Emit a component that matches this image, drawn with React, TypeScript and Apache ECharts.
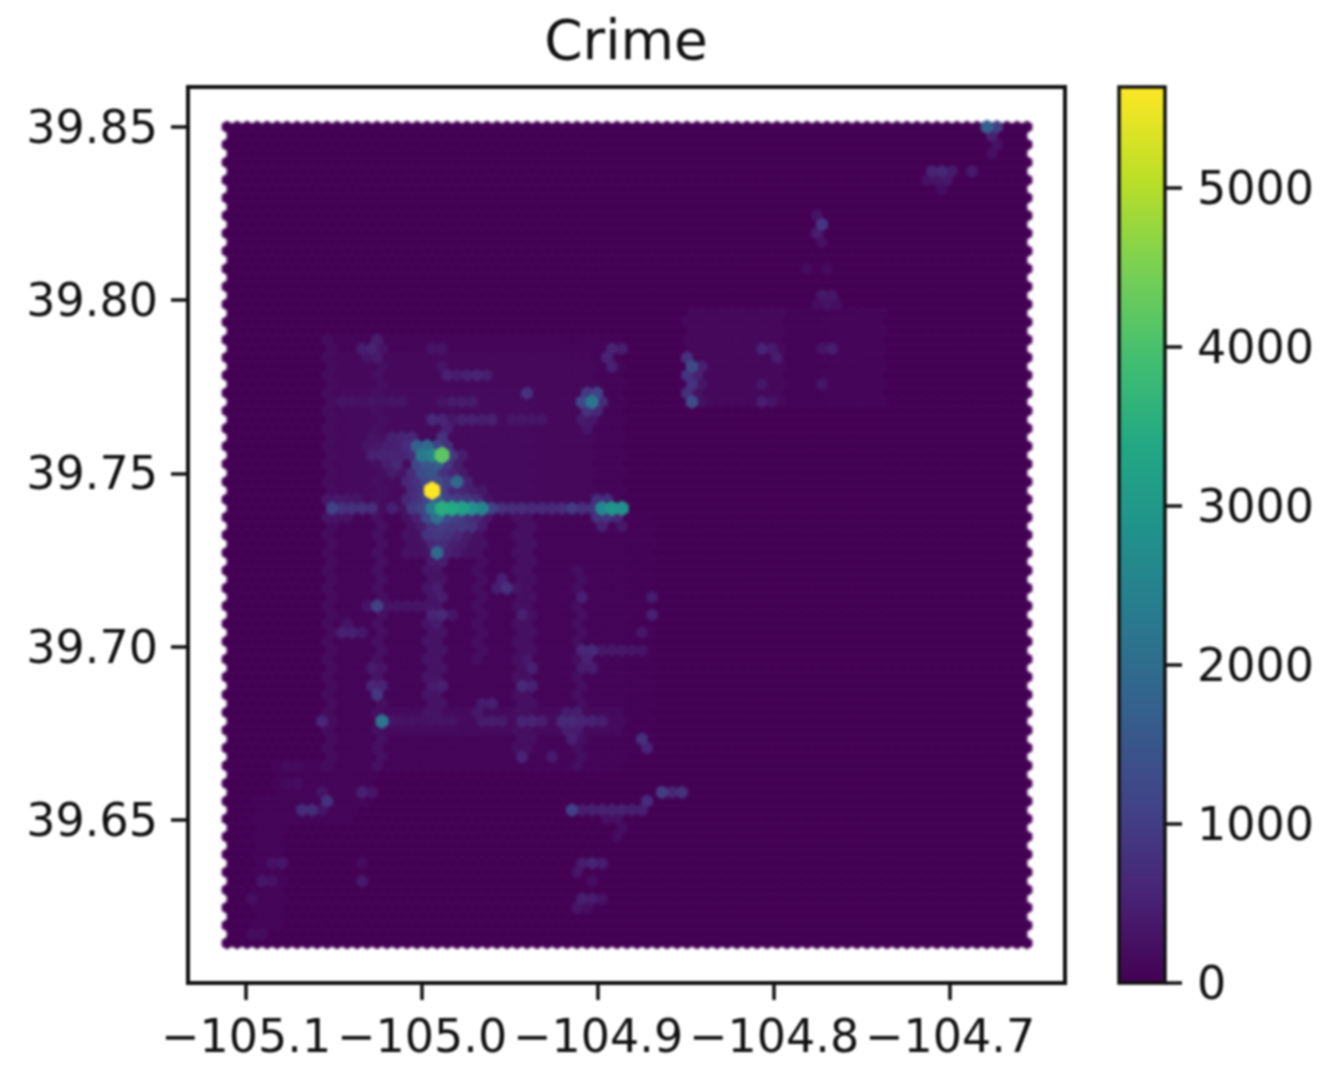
import React, { useEffect, useRef } from "react";
import * as echarts from "echarts";

const TITLE = "Crime";
const X_TICKS = [-105.1, -105.0, -104.9, -104.8, -104.7];
const Y_TICKS = [39.65, 39.7, 39.75, 39.8, 39.85];
const BAR_TICKS = [0, 1000, 2000, 3000, 4000, 5000];
const COUNT_MAX = 5635;

// Hexbin lattice (gridsize 80)
const LON_MIN = -105.1108;
const LON_MAX = -104.6563;
const LAT_MIN = 39.6145;
const LAT_MAX = 39.85;
const N_COLS = 80;
const N_ROWS = 46;

const VIRIDIS = ["#440154", "#482475", "#414487", "#355f8d", "#2a788e", "#21918c", "#22a884", "#44bf70", "#7ad151", "#bddf26", "#fde725"];

// Faint areas: [rowFrom, rowTo, colFrom, colTo, count]; rows count from the top in half steps
const REGION_COUNTS = [
  [24, 72, 10, 39, 70], [26, 42, 11, 36, 110], [30, 42, 12, 30, 150], [72, 78, 5, 12, 60], [73, 76, 9, 14, 70], [76, 90, 3, 5, 50],
  [44, 70, 40, 42, 30],
  [21, 31, 46, 55, 110], [21, 31, 60, 65, 85], [21, 31, 56, 59, 40],
  [24, 72, 10, 10, 170], [24, 72, 15, 15, 230], [44, 66, 20, 21, 290], [44, 70, 29, 30, 230], [50, 72, 35, 35, 210],
  [44, 60, 25, 25, 200], [66, 68, 16, 39, 150], [44, 48, 18, 25, 260],
];

// Individually read cells: [row, firstCol, counts]
const CELL_RUNS = [
  [0, 76, [1700, 1000]], [1, 76, [500]], [2, 77, [280]], [3, 76, [220]],
  [5, 70, [550, 600, 400, 0, 400]], [6, 70, [250, 300, 350]], [7, 71, [200]],
  [10, 59, [300]], [11, 59, [900]], [12, 59, [450]], [13, 59, [220]],
  [16, 58, [160, 0, 160]], [19, 59, [350, 320]], [20, 59, [180, 280, 180]],
  [24, 15, [450]],
  [25, 13, [450, 550, 300]], [25, 20, [300, 300]], [25, 38, [550, 450]], [25, 53, [550, 400]], [25, 59, [300, 450]],
  [26, 14, [300, 400]], [26, 38, [550]], [26, 46, [800]], [26, 55, [450]],
  [27, 21, [300]], [27, 38, [500]], [27, 46, [1250, 500]],
  [28, 22, [500, 400, 500, 550, 450]], [28, 46, [800, 500]],
  [29, 46, [800, 300]], [29, 53, [350]], [29, 59, [320]],
  [30, 30, [800]], [30, 36, [900, 1100]], [30, 46, [750, 250]],
  [31, 11, [300, 280, 260, 300, 280, 300, 300]], [31, 21, [300, 400, 420, 400]], [31, 35, [1200, 2200, 700]], [31, 46, [1300, 220]], [31, 53, [450, 300]],
  [32, 36, [800, 600]],
  [33, 20, [650, 600, 350, 500, 500, 450, 500]], [33, 28, [350, 350, 320, 320]], [33, 35, [400, 350]],
  [34, 22, [500]], [34, 36, [320]],
  [35, 14, [300, 250, 500, 550, 600]], [35, 21, [800]],
  [36, 14, [300, 350, 450, 500]], [36, 18, [700, 1700, 1900, 1100, 800]],
  [37, 14, [500, 550, 550, 550, 700]], [37, 19, [2300, 2500, 4200, 900]], [37, 23, [450]],
  [38, 16, [450, 600]], [38, 19, [1200, 1500, 1600, 900, 450]],
  [39, 16, [400, 300, 700]], [39, 19, [1300, 1400, 800, 550, 400]],
  [40, 18, [600, 800, 1200, 1300, 1000, 1900, 500]],
  [41, 18, [650]], [41, 19, [900, 5635, 1100, 600, 550, 450, 350]],
  [42, 10, [350, 400, 350, 300]], [42, 18, [600, 800, 1100, 1500, 1100, 1000, 900, 700, 300]], [42, 37, [700, 700]],
  [43, 10, [1100, 800, 800, 750, 700, 200, 500, 250, 900, 1100, 2300, 3500, 3400, 3200, 2800, 2500, 1100, 750, 700, 700, 650, 650, 650, 700, 950, 750, 800, 2600, 2900, 2800]],
  [44, 10, [300, 300, 280]], [44, 19, [500, 1200, 2100, 1200, 1000, 800, 600, 350]], [44, 37, [800, 800, 600]],
  [45, 19, [450, 900, 1000, 900, 900, 800, 400]], [45, 37, [500]], [45, 39, [350]],
  [46, 20, [800, 900, 800, 600, 400]],
  [47, 20, [600, 700, 500, 400]],
  [48, 21, [1900, 500, 400]],
  [49, 20, [400, 450]],
  [51, 27, [500]], [52, 27, [450, 800, 300]], [52, 21, [450]],
  [53, 21, [450]], [53, 35, [500]], [53, 42, [450]],
  [54, 14, [300, 1100, 300, 300, 300, 300, 300, 300]],
  [55, 20, [550, 650, 300]], [55, 29, [500]], [55, 42, [500]],
  [56, 12, [300]], [56, 21, [400]],
  [57, 11, [500, 500, 350]], [57, 41, [350]],
  [59, 35, [600, 650, 350, 350, 350, 300, 300]], [60, 30, [350]], [60, 36, [500]],
  [61, 14, [400, 300]], [61, 30, [500]], [61, 35, [400, 450]], [62, 15, [300]],
  [63, 14, [600, 550]], [63, 20, [400, 500]], [63, 29, [650, 500]],
  [64, 15, [900]],
  [65, 25, [400, 450]],
  [66, 25, [350]], [66, 34, [400, 450]],
  [67, 9, [600]], [67, 15, [2200, 300, 280, 280, 260, 280, 290, 290]], [67, 25, [400, 450, 380]], [67, 29, [550, 550, 450]], [67, 33, [650, 650, 550, 500, 450]],
  [68, 34, [450, 400]], [69, 34, [500]], [69, 41, [750]], [70, 42, [550]], [71, 29, [550]], [71, 32, [400]],
  [72, 6, [150, 150]], [74, 6, [150, 170]],
  [75, 9, [300]], [75, 13, [500, 300]], [75, 43, [1000, 600, 800]], [76, 10, [800]], [76, 42, [700]],
  [77, 7, [700, 700, 300]], [77, 34, [1050, 450, 500, 500, 500, 500, 480, 480]],
  [78, 38, [220, 220]], [79, 39, [180]], [80, 39, [180]],
  [83, 4, [280, 320]], [83, 13, [160]], [83, 35, [420, 550, 420]],
  [84, 35, [320]], [85, 3, [320, 260]], [85, 13, [380]], [85, 36, [180]],
  [87, 2, [220]], [87, 35, [480, 420, 280]], [88, 35, [300, 200]],
  [91, 2, [170, 170]],
];

const hexColor = (hex: string) => [1, 3, 5].map((i) => parseInt(hex.slice(i, i + 2), 16));
const colorOf = (v: number) => {
  const t = Math.min(1, Math.max(0, v / COUNT_MAX)) * (VIRIDIS.length - 1);
  const i = Math.min(VIRIDIS.length - 2, Math.floor(t));
  const a = hexColor(VIRIDIS[i]);
  const b = hexColor(VIRIDIS[i + 1]);
  const f = t - i;
  return `rgb(${a.map((c, k) => Math.round(c + (b[k] - c) * f)).join(",")})`;
};

const stepLon = (LON_MAX - LON_MIN) / N_COLS;
const stepLat = (LAT_MAX - LAT_MIN) / N_ROWS;

function buildCells() {
  const counts = new Map<string, number>();
  for (const [r0, r1, c0, c1, v] of REGION_COUNTS) {
    for (let r = r0; r <= r1; r++) for (let c = c0; c <= c1; c++) {
      const k = `${r}:${c}`;
      counts.set(k, Math.max(counts.get(k) || 0, v));
    }
  }
  for (const [r, c0, vals] of CELL_RUNS as [number, number, number[]][]) {
    vals.forEach((v, i) => { if (v > 0) counts.set(`${r}:${c0 + i}`, v); });
  }
  const cells: number[][] = [];
  for (let r = 0; r <= N_ROWS * 2; r++) {
    const odd = r % 2 === 1;
    const cols = odd ? N_COLS : N_COLS + 1;
    for (let c = 0; c < cols; c++) {
      cells.push([
        LON_MIN + (c + (odd ? 0.5 : 0)) * stepLon,
        LAT_MAX - (r / 2) * stepLat,
        counts.get(`${r}:${c}`) || 0,
      ]);
    }
  }
  return cells.sort((a, b) => a[2] - b[2]);
}

const FONT = "DejaVu Sans";
const INK = "#111111";
const LON_RANGE = { min: -105.133, max: -104.6347 };
const LAT_RANGE = { min: 39.603, max: 39.8615 };
const MAIN_GRID = { left: 188, right: 264, top: 87, bottom: 89 };

export default function App() {
  const hexRef = useRef<HTMLDivElement>(null);
  const ref = useRef<HTMLDivElement>(null);
  useEffect(() => {
    document.body.style.margin = "0";
    const hexChart = echarts.init(hexRef.current!, undefined, { renderer: "svg" });
    const chart = echarts.init(ref.current!, undefined, { renderer: "svg" });
    const fmt = (d: number) => (v: number) => v.toFixed(d).replace("-", "\u2212");
    const tick = { show: true, length: 17, lineStyle: { color: INK, width: 3.5 } };
    const stops = VIRIDIS.map((c, i) => ({ offset: i / (VIRIDIS.length - 1), color: c }));
    hexChart.setOption({
      animation: false,
      grid: MAIN_GRID,
      xAxis: { type: "value", ...LON_RANGE, show: false },
      yAxis: { type: "value", ...LAT_RANGE, show: false },
      series: [
        {
          type: "custom", data: buildCells(), progressive: 0, silent: true,
          encode: { x: 0, y: 1 },
          renderItem: (_: any, api: any) => {
            const [x, y] = api.coord([api.value(0), api.value(1)]);
            const [sx, sy] = api.size([stepLon, stepLat]);
            const hw = sx / 2;
            const q = sy / 3;
            const v = api.value(2);
            const fill = colorOf(v);
            return {
              type: "polygon",
              shape: { points: [[x + hw, y - q / 2], [x, y - q], [x - hw, y - q / 2], [x - hw, y + q / 2], [x, y + q], [x + hw, y + q / 2]] },
              style: { fill, stroke: fill, lineWidth: 0.8 + (5.5 * v) / COUNT_MAX, lineJoin: "round" },
            };
          },
        },
      ],
    });
    chart.setOption({
      animation: false,
      title: {
        text: TITLE, left: 621, top: 7, textAlign: "center",
        textStyle: { fontFamily: FONT, fontSize: 55, fontWeight: "normal", color: INK },
      },
      grid: [
        { ...MAIN_GRID, show: true, borderColor: INK, borderWidth: 4 },
        { left: 1119, width: 46, top: 87, bottom: 89 },
      ],
      xAxis: [
        {
          type: "value", gridIndex: 0, ...LON_RANGE, splitLine: { show: false }, axisLine: { show: false },
          axisTick: { ...tick, customValues: X_TICKS },
          axisLabel: { customValues: X_TICKS, formatter: fmt(1), fontFamily: FONT, fontSize: 46, color: INK, margin: 30 },
        },
        { type: "category", gridIndex: 1, data: ["count"], show: false },
      ],
      yAxis: [
        {
          type: "value", gridIndex: 0, ...LAT_RANGE, splitLine: { show: false }, axisLine: { show: false },
          axisTick: { ...tick, customValues: Y_TICKS },
          axisLabel: { customValues: Y_TICKS, formatter: fmt(2), fontFamily: FONT, fontSize: 46, color: INK, margin: 30, padding: [6, 0, 0, 0] },
        },
        {
          type: "value", gridIndex: 1, position: "right", min: 0, max: COUNT_MAX, splitLine: { show: false }, axisLine: { show: false },
          axisTick: { ...tick, customValues: BAR_TICKS },
          axisLabel: { customValues: BAR_TICKS, formatter: fmt(0), fontFamily: FONT, fontSize: 46, color: INK, margin: 32, padding: [3, 0, 0, 0] },
        },
      ],
      series: [
        {
          type: "bar", xAxisIndex: 1, yAxisIndex: 1, data: [COUNT_MAX], barWidth: "100%", silent: true,
          itemStyle: { color: { type: "linear", x: 0, y: 1, x2: 0, y2: 0, colorStops: stops } },
        },
      ],
      graphic: [
        { type: "rect", z: 50, shape: { x: 1119, y: 87, width: 46, height: 896 }, style: { fill: "none", stroke: INK, lineWidth: 3.5 } },
      ],
    });
    return () => {
      chart.dispose();
      hexChart.dispose();
    };
  }, []);
  const layer = { position: "absolute" as const, left: 0, top: 0, width: 1329, height: 1072 };
  return (
    <div style={{ position: "relative", width: 1329, height: 1072 }}>
      <div ref={hexRef} style={{ ...layer, filter: "blur(1.7px)" }} />
      <div ref={ref} style={{ ...layer, filter: "blur(0.8px)" }} />
    </div>
  );
}
